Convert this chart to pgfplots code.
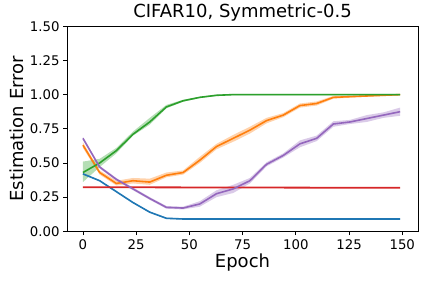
\documentclass[border=0pt]{standalone}
\usepackage{fontspec}
\setmainfont{DejaVu Sans}
\usepackage{pgfplots}
\pgfplotsset{compat=1.18}
\usepackage{pgfplotstable}
\usepgfplotslibrary{fillbetween}
\definecolor{cblue}{HTML}{1F77B4}
\definecolor{corange}{HTML}{FF7F0E}
\definecolor{cgreen}{HTML}{2CA02C}
\definecolor{lred}{HTML}{D62728}
\definecolor{cpurple}{HTML}{9467BD}
\pgfplotstableread{
x y lo hi
0 0.42 0.415 0.425
7.84 0.37 0.365 0.375
15.68 0.29 0.285 0.295
23.53 0.21 0.205 0.215
31.37 0.14 0.135 0.145
39.21 0.095 0.09 0.10
47.05 0.09 0.085 0.095
54.89 0.09 0.085 0.095
62.74 0.09 0.085 0.095
70.58 0.09 0.085 0.095
78.42 0.09 0.085 0.095
86.26 0.09 0.085 0.095
94.11 0.09 0.085 0.095
101.95 0.09 0.085 0.095
109.79 0.09 0.085 0.095
117.63 0.09 0.085 0.095
125.47 0.09 0.085 0.095
133.32 0.09 0.085 0.095
141.16 0.09 0.085 0.095
149 0.09 0.085 0.095
}\tabblue
\pgfplotstableread{
x y lo hi
0 0.63 0.61 0.65
7.84 0.43 0.415 0.445
15.68 0.35 0.335 0.37
23.53 0.37 0.35 0.39
31.37 0.36 0.34 0.385
39.21 0.41 0.395 0.43
47.05 0.43 0.415 0.445
54.89 0.52 0.50 0.545
62.74 0.62 0.60 0.64
70.58 0.68 0.655 0.705
78.42 0.74 0.715 0.765
86.26 0.81 0.79 0.83
94.11 0.85 0.835 0.865
101.95 0.92 0.905 0.935
109.79 0.935 0.92 0.95
117.63 0.98 0.97 0.99
125.47 0.985 0.978 0.992
133.32 0.99 0.985 0.995
141.16 0.995 0.99 1.0
149 1.0 0.995 1.005
}\taborange
\pgfplotstableread{
x y lo hi
0 0.43 0.36 0.51
7.84 0.50 0.47 0.53
15.68 0.59 0.57 0.61
23.53 0.71 0.70 0.73
31.37 0.80 0.78 0.83
39.21 0.91 0.90 0.925
47.05 0.955 0.948 0.962
54.89 0.98 0.975 0.985
62.74 0.995 0.99 1.0
70.58 1.0 0.995 1.005
78.42 1.0 0.995 1.005
86.26 1.0 0.995 1.005
94.11 1.0 0.995 1.005
101.95 1.0 0.995 1.005
109.79 1.0 0.995 1.005
117.63 1.0 0.995 1.005
125.47 1.0 0.995 1.005
133.32 1.0 0.995 1.005
141.16 1.0 0.995 1.005
149 1.0 0.995 1.005
}\tabgreen
\pgfplotstableread{
x y lo hi
0 0.68 0.67 0.69
7.84 0.47 0.46 0.48
15.68 0.38 0.37 0.39
23.53 0.31 0.30 0.32
31.37 0.24 0.23 0.25
39.21 0.175 0.165 0.185
47.05 0.17 0.16 0.18
54.89 0.20 0.18 0.22
62.74 0.275 0.25 0.30
70.58 0.31 0.28 0.34
78.42 0.37 0.35 0.39
86.26 0.49 0.475 0.505
94.11 0.555 0.54 0.57
101.95 0.64 0.615 0.665
109.79 0.68 0.66 0.70
117.63 0.785 0.765 0.805
125.47 0.80 0.785 0.815
133.32 0.825 0.80 0.85
141.16 0.85 0.83 0.87
149 0.875 0.845 0.905
}\tabpurple
\pgfplotstableread{
x y
0 0.3225
149 0.3180
}\tabred
\begin{document}
\begin{tikzpicture}
\begin{axis}[name=ax,
  scale only axis, width=351pt, height=205pt,
  xmin=-7.5, xmax=157.4, ymin=0, ymax=1.5,
  xtick={0,25,50,75,100,125,150},
  ytick={0,0.25,0.5,0.75,1,1.25,1.5},
  yticklabel style={/pgf/number format/.cd,fixed,fixed zerofill,precision=2},
  /pgf/number format/assume math mode=true,
  tick align=outside, major tick length=3.9pt,
  tick style={black, line width=0.8pt},
  axis line style={line width=0.8pt},
  ticklabel style={font=\fontsize{13.3}{15}\selectfont},
  xticklabel style={yshift=-1pt},
  xtick pos=bottom, ytick pos=left,
  title={CIFAR10, Symmetric-0.5},
  title style={font=\fontsize{18}{21}\selectfont, yshift=-4pt},
  xlabel={Epoch}, ylabel={Estimation Error},
  label style={font=\fontsize{18}{21}\selectfont},
  xlabel style={yshift=3pt}, ylabel style={yshift=-1pt},
]
% blue
\addplot[draw=none, name path=bh, forget plot] table[x=x,y=hi]{\tabblue};
\addplot[draw=none, name path=bl, forget plot] table[x=x,y=lo]{\tabblue};
\addplot[fill=cblue, fill opacity=0.35, draw=none, forget plot] fill between[of=bh and bl];
\addplot[cblue, line width=1.6pt] table[x=x,y=y]{\tabblue};
% orange
\addplot[draw=none, name path=oh, forget plot] table[x=x,y=hi]{\taborange};
\addplot[draw=none, name path=ol, forget plot] table[x=x,y=lo]{\taborange};
\addplot[fill=corange, fill opacity=0.35, draw=none, forget plot] fill between[of=oh and ol];
\addplot[corange, line width=1.6pt] table[x=x,y=y]{\taborange};
% green
\addplot[draw=none, name path=gh, forget plot] table[x=x,y=hi]{\tabgreen};
\addplot[draw=none, name path=gl, forget plot] table[x=x,y=lo]{\tabgreen};
\addplot[fill=cgreen, fill opacity=0.35, draw=none, forget plot] fill between[of=gh and gl];
\addplot[cgreen, line width=1.6pt] table[x=x,y=y]{\tabgreen};
% red
\addplot[lred, line width=1.8pt] table[x=x,y=y]{\tabred};
% purple
\addplot[draw=none, name path=ph, forget plot] table[x=x,y=hi]{\tabpurple};
\addplot[draw=none, name path=pl, forget plot] table[x=x,y=lo]{\tabpurple};
\addplot[fill=cpurple, fill opacity=0.35, draw=none, forget plot] fill between[of=ph and pl];
\addplot[cpurple, line width=1.6pt] table[x=x,y=y]{\tabpurple};
\end{axis}
\path (ax.south west) ++(-67pt,-49pt) rectangle ++(424pt,280pt);
\end{tikzpicture}
\end{document}
